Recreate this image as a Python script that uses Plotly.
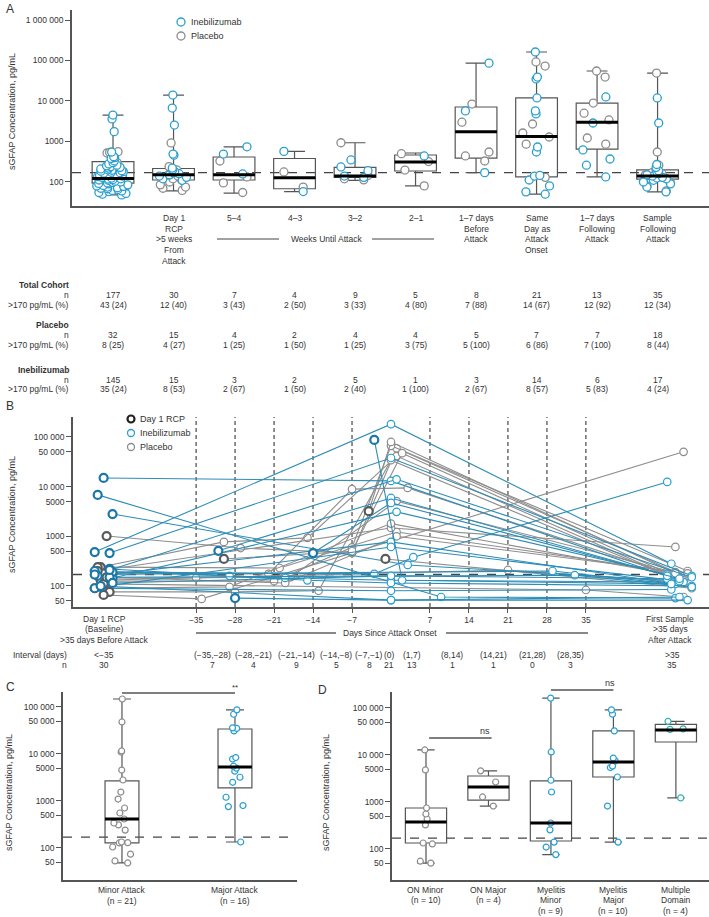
import plotly.graph_objects as go

W, H = 709, 917
FONT = "Liberation Sans, Arial, sans-serif"
TXT = "#333333"
BLUE = "#2a9fd0"
BLUE_LINE = "#2d8db6"
BLUE_DARK = "#1b78a6"
GREY = "#8c8c8c"
GREY_LINE = "#8e8e8e"
GREY_DARK = "#5a5a5a"
TEAL = "#35b3b0"
AXIS = "#555555"
BOXC = "#555555"
THRESH = 170

# ---------------- Panel A data ----------------
a_categories = ["", "Day 1<br>RCP<br>>5 weeks<br>From<br>Attack", "5–4", "4–3", "3–2", "2–1",
                "1–7 days<br>Before<br>Attack", "Same<br>Day as<br>Attack<br>Onset",
                "1–7 days<br>Following<br>Attack", "Sample<br>Following<br>Attack"]
a_lowerfence = [48, 60, 53, 58, 110, 80, 170, 50, 133, 57]
a_q1 = [94, 112, 112, 68, 130, 187, 390, 133, 650, 118]
a_median = [122, 150, 150, 128, 140, 312, 1750, 1320, 3000, 140]
a_q3 = [320, 215, 414, 380, 230, 464, 7100, 11900, 8900, 198]
a_upperfence = [4500, 14000, 740, 570, 930, 520, 86000, 162000, 55000, 49000]

a_ineb = [
    [4500, 3600, 1750, 550, 420, 400, 380, 330, 300, 280, 260, 250, 240, 230, 220, 210, 200, 195,
     190, 185, 180, 175, 170, 165, 160, 155, 150, 145, 140, 135, 130, 125, 120, 118, 115, 112, 110,
     105, 100, 98, 95, 92, 90, 85, 82, 80, 78, 75, 72, 70, 68, 65, 62, 60, 58, 55, 52, 50, 48],
    [14000, 6700, 2550, 490, 460, 220, 200, 180, 170, 160, 150, 140, 130, 120, 110],
    [740, 490, 158],
    [570, 58],
    [350, 235, 190, 140, 130],
    [440],
    [86000, 5700, 170],
    [162000, 39000, 35000, 11900, 5700, 4800, 730, 550, 145, 140, 112, 80, 57, 50],
    [12600, 2860, 620, 370, 260, 133],
    [11900, 2860, 270, 230, 190, 175, 160, 150, 140, 130, 125, 120, 110, 100, 90, 75, 57],
]
a_plac = [
    [560, 540, 520, 300, 260, 210, 180, 150, 130, 115, 100, 90, 80, 70, 65, 60],
    [920, 240, 200, 185, 170, 160, 150, 140, 120, 110, 100, 85, 75, 70, 62],
    [330, 133, 95, 55],
    [177, 75],
    [930, 145, 120, 113],
    [500, 320, 197, 80],
    [8400, 3000, 550, 440, 330],
    [92000, 73000, 2700, 1620, 1290, 860, 130],
    [55000, 39000, 8900, 5000, 3400, 1220, 860],
    [49000, 550, 260, 230, 200, 180, 170, 160, 150, 140, 135, 130, 120, 115, 105, 95, 80, 60],
]

total_n = ["177", "30", "7", "4", "9", "5", "8", "21", "13", "35"]
total_pct = ["43 (24)", "12 (40)", "3 (43)", "2 (50)", "3 (33)", "4 (80)", "7 (88)", "14 (67)", "12 (92)", "12 (34)"]
placebo_n = ["32", "15", "4", "2", "4", "4", "5", "7", "7", "18"]
placebo_pct = ["8 (25)", "4 (27)", "1 (25)", "1 (50)", "1 (25)", "3 (75)", "5 (100)", "6 (86)", "7 (100)", "8 (44)"]
ineb_n = ["145", "15", "3", "2", "5", "1", "3", "14", "6", "17"]
ineb_pct = ["35 (24)", "8 (53)", "2 (67)", "1 (50)", "2 (40)", "1 (100)", "2 (67)", "8 (57)", "5 (83)", "4 (24)"]

# ---------------- Panel B data ----------------
b_group = ["I", "I", "I", "I", "I", "P", "P", "I", "I", "P", "I", "I", "P", "I", "I", "P", "P", "P", "I",
           "P", "P", "I", "I", "P", "P", "I", "P", "I", "P", "I",
           "P", "P", "I", "I", "I", "I", "P"]
b_baseline = [480, 460, 14900, 6800, 2800, 1010, 240, 200, 220, 180, 160, 145, 125, 96, 90, 76, 66, 240, 190,
              145, 130, 170, 150, 110, 200, 115, 150, 100, 90, 210,
              None, None, None, None, None, None, None]
b_mid_days = [[0], [0], [0], [9], [3], [-27, -7, 1], [-30, -15, 1], [-19, 0], [-29, -15, 0], [-22, -7, 3],
              [0], [1], [-21, -7, 0], [0], [0], [-28, -13, 0], [-34], [-20, 1], [-3, 4],
              [-18, 1], [-35, 21], [29], [33], [35], [0], [0], [-19, 1], [0], [-29, 0], [1],
              [-30, -7, 2], [-4, 0], [-31, 0], [-28, 0], [-14, 0], [-3, 2], [-1]]
b_mid_vals = [[180000], [37600], [13000], [60], [265], [580, 460, 59000], [770, 930, 41000], [145, 130],
              [160, 130, 115], [175, 8900, 9400], [770], [3100], [125, 600, 66000], [610], [80],
              [76, 80, 34000], [55], [230, 1220], [175, 380],
              [150, 5100], [145, 210], [200], [165], [83], [1470], [160], [115, 1000], [52], [96, 1800], [14000],
              [350, 500, 47000], [3200, 79000], [510, 5900], [57, 52], [460, 4700], [87000, 130], [350]]
b_final = [280, 160, 120, 57, 130, 150, 130, 120, 100, 140, 110, 170, 200, 125, 85, 100, 50000, 190, 12400,
           160, 120, 110, 95, 60, 610, 140, 180, 60, 170, 150,
           130, 180, 160, 52, 140, 110, 90]
b_vlines = [-35, -28, -21, -14, -7, 7, 14, 21, 28, 35]
b_interval_labels = ["<−35", "(−35,−28)", "(−28,−21)", "(−21,−14)", "(−14,−8)", "(−7,−1)", "(0)", "(1,7)",
                     "(8,14)", "(14,21)", "(21,28)", "(28,35)", ">35"]
b_interval_n = ["30", "7", "4", "9", "5", "8", "21", "13", "1", "1", "0", "3", "35"]

# ---------------- Panel C data ----------------
c_categories = ["Minor Attack<br>(n = 21)", "Major Attack<br>(n = 16)"]
c_lowerfence = [48, 134]
c_q1 = [128, 1900]
c_median = [414, 5300]
c_q3 = [2670, 34000]
c_upperfence = [148000, 87000]
c_points = [
    [148000, 48000, 11600, 11000, 4550, 2800, 1550, 1100, 710, 555, 414, 340, 310, 240, 134, 130, 128,
     105, 74, 53, 48],
    [87000, 70000, 36000, 35000, 31000, 8400, 7800, 5500, 5000, 4300, 3200, 2500, 1200, 800, 760, 134],
]

# ---------------- Panel D data ----------------
d_categories = ["ON Minor<br>(n = 10)", "ON Major<br>(n = 4)", "Myelitis<br>Minor<br>(n = 9)",
                "Myelitis<br>Major<br>(n = 10)", "Multiple<br>Domain<br>(n = 4)"]
d_lowerfence = [50, 820, 76, 140, 1220]
d_q1 = [134, 1100, 148, 3400, 18900]
d_median = [375, 2080, 357, 7100, 34000]
d_q3 = [745, 3570, 2800, 32500, 45000]
d_upperfence = [12800, 4600, 162000, 91000, 52000]
d_points = [
    [12800, 4800, 745, 555, 435, 325, 134, 128, 55, 50],
    [4600, 2660, 1280, 820],
    [162000, 11600, 2900, 1630, 357, 255, 140, 110, 76],
    [91000, 74000, 32500, 8600, 7500, 5800, 5400, 3400, 820, 140],
    [52000, 36000, 35000, 1220],
]
d_colors = [GREY, GREY, BLUE, BLUE, TEAL]


def PX(x):
    return x / W


def PY(y):
    return 1 - y / H


fig = go.Figure()
annotations = []
shapes = []


def ann(text, x, y, xref="paper", size=8.5, xanchor="center", angle=0, color=TXT, yanchor="middle"):
    annotations.append(dict(text=text, x=PX(x) if xref == "paper" else x, y=PY(y), xref=xref, yref="paper",
                            showarrow=False, xanchor=xanchor, yanchor=yanchor, textangle=angle,
                            borderpad=0, font=dict(size=size, color=color, family=FONT)))


def multiline(label, x, y0, step, xref, size=8.5):
    for j, line in enumerate(label.split("<br>")):
        if line:
            ann(line, x, y0 + j * step, xref=xref, size=size)


def add_boxes(xa, ya, stats, width, whisk, half):
    lo, q1, med, q3, hi = stats
    pos = list(range(len(med)))
    fig.add_trace(go.Box(x=pos, q1=q1, median=med, q3=q3, lowerfence=lo, upperfence=hi, width=width,
                         whiskerwidth=whisk, line=dict(color=BOXC, width=1.2), fillcolor="rgba(0,0,0,0)",
                         boxpoints=False, xaxis=xa, yaxis=ya, showlegend=False, hoverinfo="skip"))
    mx, my = [], []
    for i, m in enumerate(med):
        mx += [i - half, i + half, None]
        my += [m, m, None]
    fig.add_trace(go.Scatter(x=mx, y=my, mode="lines", line=dict(color="black", width=3),
                             xaxis=xa, yaxis=ya, showlegend=False, hoverinfo="skip"))


def add_points(xa, ya, i, vals, color, width, jitter, size, lw=1.3):
    if not vals:
        return
    fig.add_trace(go.Box(x=[i] * len(vals), y=vals, boxpoints="all", jitter=jitter, pointpos=0, width=width,
                         line=dict(width=0, color="rgba(0,0,0,0)"), fillcolor="rgba(0,0,0,0)",
                         marker=dict(color="white", size=size, line=dict(color=color, width=lw)),
                         xaxis=xa, yaxis=ya, showlegend=False, hoverinfo="skip"))


# ---------------- Panel A ----------------
add_boxes("x", "y", (a_lowerfence, a_q1, a_median, a_q3, a_upperfence), 0.69, 0.5, 0.345)
for i in range(len(a_categories)):
    add_points("x", "y", i, a_plac[i], GREY, 0.69, 0.8, 8)
    add_points("x", "y", i, a_ineb[i], BLUE, 0.69, 0.8, 8)

for i, lab in enumerate(a_categories):
    multiline(lab, i, 218, 10.7, "x")
ann("Weeks Until Attack", 326, 239)
shapes.append(dict(type="line", xref="paper", yref="paper", x0=PX(217), x1=PX(279), y0=PY(239), y1=PY(239),
                   line=dict(color="#444", width=1)))
shapes.append(dict(type="line", xref="paper", yref="paper", x0=PX(372), x1=PX(434), y0=PY(239), y1=PY(239),
                   line=dict(color="#444", width=1)))

rows = [("<b>Total Cohort</b>", None, 285), ("n", total_n, 295), (">170 pg/mL (%)", total_pct, 305),
        ("<b>Placebo</b>", None, 325), ("n", placebo_n, 335), (">170 pg/mL (%)", placebo_pct, 345),
        ("<b>Inebilizumab</b>", None, 370), ("n", ineb_n, 380), (">170 pg/mL (%)", ineb_pct, 389)]
for label, vals, y in rows:
    ann(label, 70, y, xanchor="right")
    if vals:
        for i, v in enumerate(vals):
            ann(v, i, y, xref="x")

# ---------------- Panel B ----------------
def jit(k):
    return ((k * 5) % 7 - 3) / 3.0


B_BASE_X = -51.6
B_FINAL_X = 51.8
rcp = {"I": ([], []), "P": ([], [])}
order = [k for k in range(len(b_group)) if b_group[k] == "P"] + [k for k in range(len(b_group)) if b_group[k] == "I"]
for k in order:
    xs, ys = [], []
    if b_baseline[k] is not None:
        xs.append(B_BASE_X + jit(k) * 1.6)
        ys.append(b_baseline[k])
        rcp[b_group[k]][0].append(xs[0])
        rcp[b_group[k]][1].append(ys[0])
    else:
        rcp[b_group[k]][0].append(b_mid_days[k][0])
        rcp[b_group[k]][1].append(b_mid_vals[k][0])
    xs += b_mid_days[k]
    ys += b_mid_vals[k]
    if b_final[k] is not None:
        xs.append(B_FINAL_X + jit(k + 3) * 2.2)
        ys.append(b_final[k])
    lc = BLUE_LINE if b_group[k] == "I" else GREY_LINE
    mc = BLUE if b_group[k] == "I" else GREY
    fig.add_trace(go.Scatter(x=xs, y=ys, mode="lines+markers", line=dict(color=lc, width=1.1),
                             marker=dict(size=7.5, color="white", line=dict(color=mc, width=1.2)),
                             xaxis="x2", yaxis="y2", showlegend=False, hoverinfo="skip"))
for g, col in (("P", GREY_DARK), ("I", BLUE_DARK)):
    fig.add_trace(go.Scatter(x=rcp[g][0], y=rcp[g][1], mode="markers",
                             marker=dict(size=8, color="white", line=dict(color=col, width=2.2)),
                             xaxis="x2", yaxis="y2", showlegend=False, hoverinfo="skip"))

for d in b_vlines:
    shapes.append(dict(type="line", xref="x2", yref="y2 domain", x0=d, x1=d, y0=0, y1=1, layer="below",
                       line=dict(color="#222", width=1, dash="4px,3px")))

multiline("Day 1 RCP<br>(Baseline)<br>>35 days Before Attack", 104, 619, 10.3, "paper")
multiline("First Sample<br>>35 days<br>After Attack", 670, 619, 10.3, "paper")
ann("Days Since Attack Onset", 390, 633)
shapes.append(dict(type="line", xref="paper", yref="paper", x0=PX(196), x1=PX(336), y0=PY(633), y1=PY(633),
                   line=dict(color="#888", width=2)))
shapes.append(dict(type="line", xref="paper", yref="paper", x0=PX(446), x1=PX(588), y0=PY(633), y1=PY(633),
                   line=dict(color="#888", width=2)))
b_interval_x = [104, 213, 253, 296, 336, 369, 389, 412, 452, 493, 532, 570, 672]
ann("Interval (days)", 68, 655, xanchor="right")
ann("n", 68, 665, xanchor="right")
for xx, lab, n in zip(b_interval_x, b_interval_labels, b_interval_n):
    ann(lab, xx, 655)
    ann(n, xx, 665)

# legend B
for yy, col, lw, txt in ((419, "#222", 2.2, "Day 1 RCP"), (433, BLUE, 1.3, "Inebilizumab"), (447, GREY, 1.3, "Placebo")):
    shapes.append(dict(type="circle", xref="paper", yref="paper", x0=PX(127.5), x1=PX(134.5), y0=PY(yy + 3.5),
                       y1=PY(yy - 3.5), line=dict(color=col, width=lw), fillcolor="white"))
    ann(txt, 139, yy, xanchor="left", size=9)

# legend A
for yy, col, txt in ((22, BLUE, "Inebilizumab"), (36, GREY, "Placebo")):
    shapes.append(dict(type="circle", xref="paper", yref="paper", x0=PX(177), x1=PX(185), y0=PY(yy + 4),
                       y1=PY(yy - 4), line=dict(color=col, width=1.3), fillcolor="white"))
    ann(txt, 190, yy, xanchor="left", size=9)

# ---------------- Panel C ----------------
add_boxes("x3", "y3", (c_lowerfence, c_q1, c_median, c_q3, c_upperfence), 0.30, 0.53, 0.15)
add_points("x3", "y3", 0, c_points[0], GREY, 0.30, 0.65, 6, 1.2)
add_points("x3", "y3", 1, c_points[1], BLUE, 0.30, 0.65, 6, 1.2)
for i, lab in enumerate(c_categories):
    multiline(lab, i, 890, 10.5, "x3", size=8.5)
shapes.append(dict(type="line", xref="x3", yref="paper", x0=0, x1=1, y0=PY(693), y1=PY(693),
                   line=dict(color="#555", width=1.3)))
ann("**", 1, 687, xref="x3", size=8, xanchor="center")

# ---------------- Panel D ----------------
add_boxes("x4", "y4", (d_lowerfence, d_q1, d_median, d_q3, d_upperfence), 0.66, 0.42, 0.33)
for i, pts in enumerate(d_points):
    add_points("x4", "y4", i, pts, d_colors[i], 0.66, 0.45, 6, 1.2)
for i, lab in enumerate(d_categories):
    multiline(lab, i, 890, 10.3, "x4", size=8.5)
shapes.append(dict(type="line", xref="x4", yref="paper", x0=0.05, x1=1.05, y0=PY(738), y1=PY(738),
                   line=dict(color="#555", width=1.3)))
ann("ns", 0.95, 731, xref="x4", size=9)
shapes.append(dict(type="line", xref="x4", yref="paper", x0=2, x1=3, y0=PY(690), y1=PY(690),
                   line=dict(color="#555", width=1.3)))
ann("ns", 2.95, 683, xref="x4", size=9)

# threshold lines
for xa, ya in (("x", "y"), ("x2", "y2"), ("x3", "y3"), ("x4", "y4")):
    shapes.append(dict(type="line", xref=xa + " domain", yref=ya, x0=0, x1=1, y0=THRESH, y1=THRESH,
                       line=dict(color="#444", width=1.3, dash="dash"), layer="below"))

# panel letters and axis titles
ann("A", 5, 9, size=12, xanchor="left")
ann("B", 5, 406, size=12, xanchor="left")
ann("C", 5, 687, size=12, xanchor="left")
ann("D", 317, 690, size=12, xanchor="left")
ann("sGFAP Concentration, pg/mL", 12, 112, angle=-90, size=9)
ann("sGFAP Concentration, pg/mL", 12, 515, angle=-90, size=9)
ann("sGFAP Concentration, pg/mL", 9, 793, angle=-90, size=9)
ann("sGFAP Concentration, pg/mL", 326, 793, angle=-90, size=9)

tickfont = dict(size=8.5, color=TXT, family=FONT)
ylog_common = dict(type="log", showgrid=False, zeroline=False, showline=True, linecolor=AXIS, linewidth=1.5,
                   ticks="outside", ticklen=5, tickcolor=AXIS, tickwidth=1.2, tickfont=tickfont)
x_common = dict(showgrid=False, zeroline=False, showline=True, linecolor=AXIS, linewidth=1.5)

fig.update_layout(
    width=W, height=H, margin=dict(l=0, r=0, t=0, b=0),
    paper_bgcolor="white", plot_bgcolor="white", boxmode="overlay", showlegend=False,
    font=dict(family=FONT, color=TXT, size=9),
    xaxis=dict(domain=[PX(72), 1], range=[-0.678, 9.85], anchor="y", showticklabels=False, ticks="", **x_common),
    yaxis=dict(domain=[PY(206), PY(10)], range=[1.407, 6.247], anchor="x",
               tickvals=[100, 1000, 10000, 100000, 1000000],
               ticktext=["100", "1000", "10 000", "100 000", "1 000 000"], **ylog_common),
    xaxis2=dict(domain=[PX(73), 1], range=[-57.1, 57.1], anchor="y2", tickvals=b_vlines,
                ticktext=[str(v).replace("-", "−") for v in b_vlines], ticks="outside", ticklen=4,
                tickcolor=AXIS, tickfont=tickfont, **x_common),
    yaxis2=dict(domain=[PY(607), PY(417)], range=[1.577, 5.40], anchor="x2",
                tickvals=[50, 100, 500, 1000, 5000, 10000, 50000, 100000],
                ticktext=["50", "100", "500", "1000", "5000", "10 000", "50 000", "100 000"], **ylog_common),
    xaxis3=dict(domain=[PX(63), PX(297)], range=[-0.522, 1.549], anchor="y3", showticklabels=False,
                ticks="", **x_common),
    yaxis3=dict(domain=[PY(880), PY(692)], range=[1.319, 5.319], anchor="x3",
                tickvals=[50, 100, 500, 1000, 5000, 10000, 50000, 100000],
                ticktext=["50", "100", "500", "1000", "5000", "10 000", "50 000", "100 000"], **ylog_common),
    xaxis4=dict(domain=[PX(392), 1], range=[-0.544, 4.53], anchor="y4", showticklabels=False,
                ticks="", **x_common),
    yaxis4=dict(domain=[PY(880), PY(692)], range=[1.34, 5.34], anchor="x4",
                tickvals=[50, 100, 500, 1000, 5000, 10000, 50000, 100000],
                ticktext=["50", "100", "500", "1000", "5000", "10 000", "50 000", "100 000"], **ylog_common),
    annotations=annotations,
    shapes=shapes,
)

fig.write_html("out.html", config={"displayModeBar": False},
               post_script="document.body.style.margin='0px';document.body.style.padding='0px';"
                           "document.body.style.overflow='hidden';")
